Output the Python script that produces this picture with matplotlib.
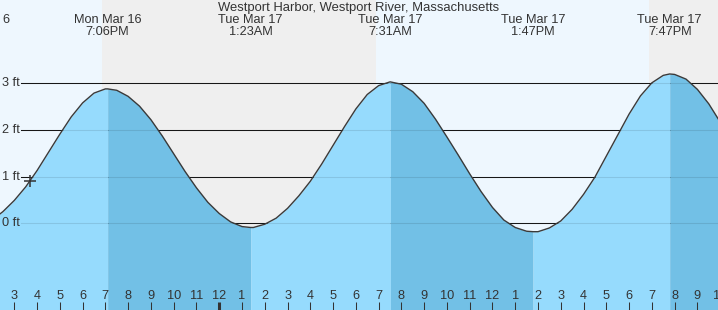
import numpy as np
import matplotlib
matplotlib.use("Agg")
import matplotlib.pyplot as plt

plt.rcParams['font.family'] = ['Liberation Sans', 'DejaVu Sans']

title = "Westport Harbor, Westport River, Massachusetts"

# hours since Mon Mar 16 00:00, read every half hour off the curve
times = np.arange(14.0, 46.01, 0.5)
heights = [0.06, 0.25, 0.49, 0.78, 1.13, 1.52, 1.91, 2.28, 2.58, 2.79,
           2.88, 2.85, 2.72, 2.51, 2.22, 1.87, 1.49, 1.11, 0.76, 0.45,
           0.21, 0.03, -0.07, -0.09, -0.02, 0.11, 0.32, 0.59, 0.90, 1.27,
           1.67, 2.07, 2.45, 2.76, 2.95, 3.03, 2.98, 2.82, 2.57, 2.23,
           1.85, 1.46, 1.06, 0.68, 0.34, 0.07, -0.09, -0.17, -0.18, -0.10,
           0.05, 0.30, 0.62, 0.99, 1.44, 1.89, 2.34, 2.73, 3.01, 3.17,
           3.19, 3.09, 2.87, 2.56, 2.17]

# high / low tides
ext_times = [19.1, 25.383, 31.517, 37.783, 43.783]
ext_heights = [2.88, -0.09, 3.03, -0.18, 3.2]
ext_days = ["Mon Mar 16", "Tue Mar 17", "Tue Mar 17", "Tue Mar 17", "Tue Mar 17"]
ext_clock = ["7:06PM", "1:23AM", "7:31AM", "1:47PM", "7:47PM"]

# sunset -> sunrise
nights = [(18.87, 30.88), (42.87, 50.0)]

now_t, now_h = 15.69, 0.90

hour_ticks = np.arange(15, 47)
hour_labels = [str((h - 1) % 12 + 1) for h in hour_ticks]
ft_levels = [0, 1, 2, 3]

DAY = '#eef7fe'
NIGHT = '#efefef'
FLOOD = '#96dbfd'
EBB = '#72c0e6'
INK = '#333333'

W, H = 718, 310
fig = plt.figure(figsize=(W / 100, H / 100), dpi=100, facecolor=DAY)
ax = fig.add_axes([0, 0, 1, 1])
ax.set_facecolor(DAY)
x0, x1 = 14.372, 45.905
ax.set_xlim(x0, x1)
ax.set_ylim(-1.858, 4.785)
ax.axis('off')

for a, b in nights:
    ax.axvspan(a, b, color=NIGHT, lw=0, zorder=0)

for lv in ft_levels:
    ax.axhline(lv, xmin=21 / W, xmax=1, color='#1a1a1a', lw=0.75, zorder=1)

t_all = np.concatenate([times, ext_times])
h_all = np.concatenate([heights, ext_heights])
order = np.argsort(t_all)
t_all, h_all = t_all[order], h_all[order]

bounds = [t_all[0]] + ext_times + [t_all[-1]]
for a, b in zip(bounds[:-1], bounds[1:]):
    m = (t_all >= a) & (t_all <= b)
    seg_t, seg_h = t_all[m], h_all[m]
    col = FLOOD if seg_h[-1] > seg_h[0] else EBB
    ax.fill_between(seg_t, seg_h, -2, color=col, lw=0, zorder=2)

for lv in ft_levels:
    ax.axhline(lv, xmin=21 / W, xmax=1, color='#000000', alpha=0.1, lw=0.75, zorder=3)

ax.plot(t_all, h_all, color='#3a3a3a', lw=1.0, zorder=4,
        solid_joinstyle='round')
ax.plot([now_t], [now_h], marker='+', ms=9, mew=1.1, color='#333333', zorder=5)

for lv in ft_levels:
    ax.text(20 / W, lv, f"{lv} ft", transform=ax.get_yaxis_transform(),
            ha='right', va='center', fontsize=9.2, color=INK, zorder=5)

ax.text(0.5, 1 - 7.5 / H, title, transform=ax.transAxes, ha='center', va='center',
        fontsize=9.4, color=INK)
ax.text(2 / W, 1 - 20 / H, "6", transform=ax.transAxes, ha='left', va='center',
        fontsize=9.2, color=INK)
for t, d, c in zip(ext_times, ext_days, ext_clock):
    ax.text(t, 1 - 20 / H, d, transform=ax.get_xaxis_transform(), ha='center',
            va='center', fontsize=9.2, color=INK)
    ax.text(t, 1 - 32 / H, c, transform=ax.get_xaxis_transform(), ha='center',
            va='center', fontsize=9.2, color=INK)

xt = ax.get_xaxis_transform()
for h, lab in zip(hour_ticks, hour_labels):
    lw = 2.2 if h == 24 else 0.75
    ax.plot([h, h], [0, 8 / H], transform=xt, color=INK, lw=lw, zorder=5,
            solid_capstyle='butt')
    ax.text(h, 14 / H, lab, transform=xt, ha='center', va='center',
            fontsize=9.2, color=INK, zorder=5)

fig.savefig("out.png", dpi=100, facecolor=DAY)
